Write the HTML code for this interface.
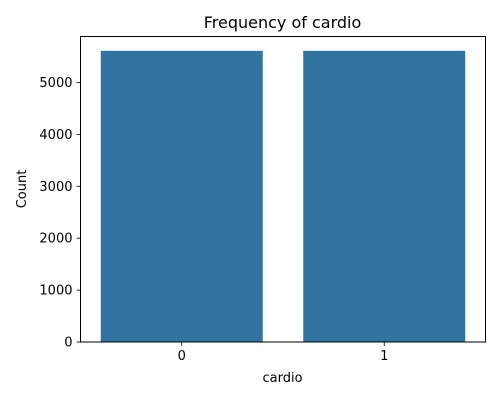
<!DOCTYPE html>
<html><head><meta charset="utf-8"><style>
body{margin:0;background:#fff;}
svg text{font-family:"DejaVu Sans","Liberation Sans",sans-serif;fill:#000;}
</style></head><body>
<svg id="chart" width="500" height="400" xmlns="http://www.w3.org/2000/svg">
<text x="282.5" y="28" font-size="16" text-anchor="middle">Frequency of cardio</text>
<g id="bars"></g>
<g id="axes"></g>
<text x="282.5" y="382" font-size="13" text-anchor="middle">cardio</text>
<text transform="translate(26,189) rotate(-90)" font-size="13" text-anchor="middle">Count</text>
</svg>
<script>
const categories = ["0", "1"];
const counts = [5610, 5610];
const yTicks = [0, 1000, 2000, 3000, 4000, 5000];

const L = 80.5, R = 485.5, T = 36.5, B = 342;
const yMax = 5900;
function y(v){ return B - v / 5000 * (B - 82.5); }
function x(i){ return L + (i + 0.5) / 2 * (R - L); }
const bw = 0.8 / 2 * (R - L);
const NS = "http://www.w3.org/2000/svg";
const bars = document.getElementById('bars');
const axes = document.getElementById('axes');
function mk(tag, attrs, parent){ const e = document.createElementNS(NS, tag); for (const k in attrs) e.setAttribute(k, attrs[k]); parent.appendChild(e); return e; }

categories.forEach((c, i) => {
  const r = mk('rect', {x: x(i) - bw/2, y: y(counts[i]), width: bw, height: B - y(counts[i]), fill: '#3274a1'}, bars);
  
  
  const t = mk('line', {x1: x(i), x2: x(i), y1: B, y2: B + 4, stroke: '#000', 'stroke-width': 0.8}, axes);
  
  
  const lb = mk('text', {x: x(i), y: B + 18, 'font-size': 13, 'text-anchor': 'middle'}, axes);
  lb.textContent = c;
  
  
});
yTicks.forEach(v => {
  const t = mk('line', {x1: L - 4, x2: L, y1: y(v), y2: y(v), stroke: '#000', 'stroke-width': 0.8}, axes);
  
  
  const lb = mk('text', {x: L - 8, y: y(v) + 4.5, 'font-size': 13, 'text-anchor': 'end'}, axes);
  lb.textContent = v;
  
  
});
const frame = mk('rect', {x: L, y: T, width: R - L, height: B - T, fill: 'none', stroke: '#000', 'stroke-width': 1}, axes);


</script>
</body></html>
